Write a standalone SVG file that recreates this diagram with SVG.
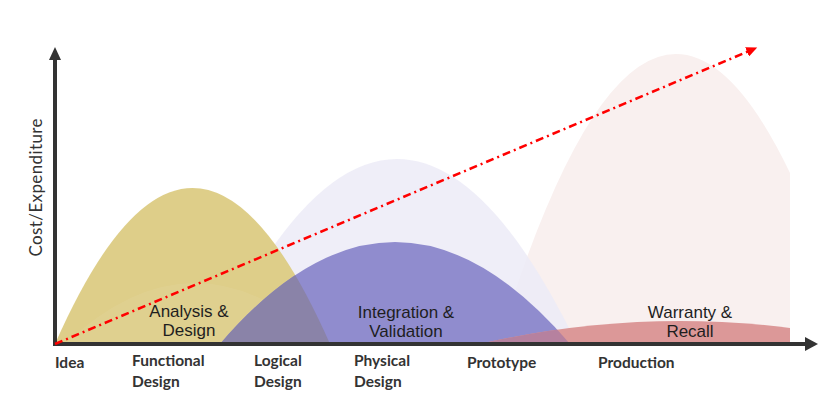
<svg xmlns="http://www.w3.org/2000/svg" width="840" height="398" viewBox="0 0 840 398">
  <style>
    .phase { font-family: "Liberation Sans", Arial, sans-serif; font-size: 17px; fill: #1e1e1e; text-anchor: middle; }
    .stage { font-family: Lato, "Liberation Sans", sans-serif; font-weight: bold; font-size: 15.5px; fill: #333333; }
    .axislabel { font-family: Lato, "Liberation Sans", sans-serif; font-size: 17px; fill: #333333; text-anchor: middle; }
    .axis { stroke: #333333; stroke-width: 4; fill: none; }
    .axishead { fill: #333333; }
    .trend { stroke: #ff0000; stroke-width: 2.5; fill: none; stroke-dasharray: 8 4 2 4; }
  </style>
  <defs>
    <clipPath id="clipRight"><rect x="0" y="0" width="790" height="398"/></clipPath>
    <clipPath id="clipYellow"><path d="M55,344 Q192.5,32 330,344 Z"/></clipPath>
    <clipPath id="clipRed"><path d="M480,344 Q680,298 880,344 Z"/></clipPath>
    <marker id="trendHead" markerUnits="userSpaceOnUse" markerWidth="12" markerHeight="10" refX="1" refY="5" orient="auto">
      <path d="M0,0 L11,5 L0,10 Z" fill="#ff0000"/>
    </marker>
  </defs>

  <g id="warranty-recall">
    <path d="M498,344 Q676,-236 854,344 Z" fill="#f9f0ef" clip-path="url(#clipRight)"/>
  </g>

  <g id="integration-validation">
    <path d="M217,344 Q397,-26 577,344 Z" fill="#ecebf7" opacity="0.85"/>
  </g>

  <g id="analysis-design">
    <path d="M55,344 Q192.5,32 330,344 Z" fill="#dccb83" opacity="0.95"/>
    <path d="M65,344 Q195,222 325,344 Z" fill="#ffffff" opacity="0.06"/>
  </g>

  <g id="integration-inner">
    <path d="M220,344 Q395,140 570,344 Z" fill="#908cce"/>
    <path d="M220,344 Q395,140 570,344 Z" fill="#8a83a8" clip-path="url(#clipYellow)"/>
  </g>

  <g id="warranty-inner">
    <g clip-path="url(#clipRight)">
      <path d="M480,344 Q680,298 880,344 Z" fill="#dc9898"/>
    </g>
    <path d="M220,344 Q395,140 570,344 Z" fill="#b6819f" clip-path="url(#clipRed)"/>
  </g>

  <g id="phase-labels">
    <text class="phase" x="189" y="317">Analysis &amp;</text>
    <text class="phase" x="189" y="336">Design</text>
    <text class="phase" x="406" y="318">Integration &amp;</text>
    <text class="phase" x="406" y="337">Validation</text>
    <text class="phase" x="690" y="318">Warranty &amp;</text>
    <text class="phase" x="690" y="337">Recall</text>
  </g>

  <g id="stage-labels">
    <text class="stage" x="55" y="368">Idea</text>
    <text class="stage" x="132" y="366">Functional</text>
    <text class="stage" x="132" y="387">Design</text>
    <text class="stage" x="254" y="366">Logical</text>
    <text class="stage" x="254" y="387">Design</text>
    <text class="stage" x="354" y="366">Physical</text>
    <text class="stage" x="354" y="387">Design</text>
    <text class="stage" x="467" y="368">Prototype</text>
    <text class="stage" x="598" y="368">Production</text>
    <text class="axislabel" transform="translate(42,187.5) rotate(-90)" textLength="138" lengthAdjust="spacing">Cost/Expenditure</text>
  </g>

  <g id="connectors">
    <line class="axis" x1="55" y1="346" x2="55" y2="58"/>
    <polygon class="axishead" points="49,60 55,47 61,60"/>
    <line class="axis" x1="53" y1="344" x2="806" y2="344"/>
    <polygon class="axishead" points="805,337 818,344 805,351"/>
    <line class="trend" x1="55" y1="344" x2="748" y2="51.5" marker-end="url(#trendHead)"/>
  </g>
</svg>
